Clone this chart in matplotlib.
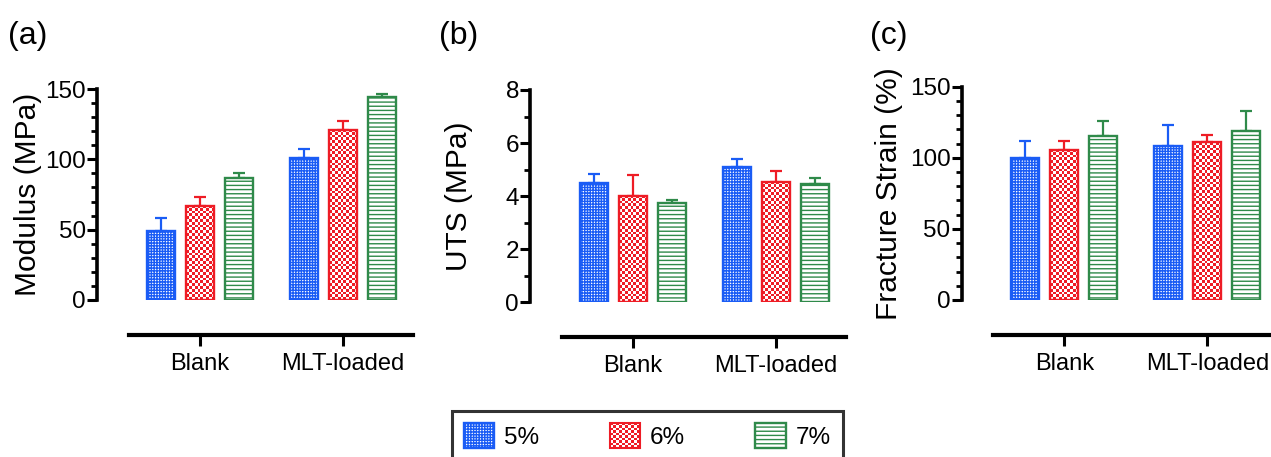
import matplotlib.pyplot as plt
import matplotlib as mpl
import numpy as np
from matplotlib.colors import ListedColormap
from matplotlib.patches import Rectangle
from matplotlib.legend_handler import HandlerBase

plt.rcParams['font.family'] = ['Liberation Sans', 'DejaVu Sans']

groups = ['Blank', 'MLT-loaded']
series = ['5%', '6%', '7%']
colors = ['#1a5cf5', '#ee1c25', '#2f8a4a']
hatches = ['++++++', None, '----']
hatch_lw = [1.0, 1.0, 1.3]
checker_px = 2.8  # cell size of the red checkerboard, pixels

modulus_mean = [[49, 101], [67, 121], [87, 144]]
modulus_err = [[9.5, 6], [6, 6], [3, 2.5]]

uts_mean = [[4.49, 5.08], [4.02, 4.53], [3.76, 4.46]]
uts_err = [[0.33, 0.33], [0.78, 0.42], [0.10, 0.23]]

strain_mean = [[100, 108.5], [105.5, 111], [115, 119]]
strain_err = [[12, 14.5], [6.5, 5], [11, 14]]

W, H = 1271, 457
fig = plt.figure(figsize=(W / 100, H / 100), dpi=100)

group_pos = np.array([0, 3.667])
offsets = [-1, 0, 1]
xmin, xmax = -2.63, 5.55
unit = 39.0


def hatch_width(artist, lw):
    orig = artist.draw

    def draw(renderer):
        with mpl.rc_context({'hatch.linewidth': lw}):
            orig(renderer)
    artist.draw = draw


def checker(ax, bar, color, ypx):
    x0, y0 = bar.get_x(), bar.get_y()
    w, h = bar.get_width(), bar.get_height()
    nx = max(1, int(round(w * unit / checker_px)))
    ny = max(1, int(round(h * ypx / checker_px)))
    ii, jj = np.indices((ny, nx))
    z = (ii + jj) % 2
    ax.imshow(z, extent=(x0, x0 + w, y0, y0 + h), origin='lower', aspect='auto',
              cmap=ListedColormap(['white', color]), interpolation='nearest', zorder=1.5)


class CheckerHandler(HandlerBase):
    def __init__(self, color, n=10):
        super().__init__()
        self.color = color
        self.n = n

    def create_artists(self, legend, orig_handle, xdescent, ydescent, width, height,
                       fontsize, trans):
        arts = [Rectangle((-xdescent, -ydescent), width, height, facecolor='white',
                          edgecolor='none', transform=trans)]
        cw, ch = width / self.n, height / self.n
        for i in range(self.n):
            for j in range(self.n):
                if (i + j) % 2:
                    arts.append(Rectangle((-xdescent + j * cw, -ydescent + i * ch), cw, ch,
                                          facecolor=self.color, edgecolor='none',
                                          transform=trans))
        arts.append(Rectangle((-xdescent, -ydescent), width, height, facecolor='none',
                              edgecolor=self.color, lw=1.5, transform=trans))
        return arts


def panel(left_px, bottom_px, top_px, means, errs, ylim, major, minor, ylabel, tag, label_x):
    ax = fig.add_axes([left_px / W, (H - bottom_px) / H,
                       (xmax - xmin) * unit / W, (bottom_px - top_px) / H])
    ypx = (bottom_px - top_px) / (ylim[1] - ylim[0])
    bars = []
    for i in range(3):
        b = ax.bar(group_pos + offsets[i], means[i], width=0.72,
                   facecolor='none' if hatches[i] is None else 'white',
                   edgecolor=colors[i], hatch=hatches[i], linewidth=1.7, zorder=2)
        for p in b:
            if hatches[i] is None:
                checker(ax, p, colors[i], ypx)
            else:
                hatch_width(p, hatch_lw[i])
        ax.errorbar(group_pos + offsets[i], means[i],
                    yerr=[np.zeros(2), errs[i]], fmt='none', ecolor=colors[i],
                    elinewidth=1.6, capsize=4.5, capthick=1.6, zorder=1)
        bars.append(b)
    ax.set_xlim(xmin, xmax)
    ax.set_ylim(*ylim)
    ax.set_yticks(np.arange(ylim[0], ylim[1] + 0.001, major))
    ax.set_yticks(np.arange(ylim[0], ylim[1] + 0.001, minor), minor=True)
    ax.set_xticks(group_pos)
    ax.set_xticklabels(groups)
    for s in ['top', 'right']:
        ax.spines[s].set_visible(False)
    ax.spines['left'].set_linewidth(2.6)
    ax.spines['bottom'].set_linewidth(3.0)
    ax.spines['bottom'].set_position(('outward', 25))
    ax.spines['bottom'].set_bounds(-1.82, 5.48)
    ax.tick_params(axis='y', which='major', length=7, width=2.2, labelsize=17.5, pad=1)
    ax.tick_params(axis='y', which='minor', length=4.5, width=2.0)
    ax.tick_params(axis='x', length=8, width=2.2, labelsize=17, pad=5)
    ax.set_ylabel(ylabel, fontsize=21.5)
    ax.yaxis.set_label_coords(label_x, 0.5)
    ax.patch.set_alpha(0)
    fig.text(tag[1] / W, 1 - 36 / H, tag[0], fontsize=23, ha='left', va='center')
    return bars


bars = panel(97, 300, 89, modulus_mean, modulus_err, (0, 150), 50, 10,
             'Modulus (MPa)', ('(a)', 8), -0.1735)
panel(530, 302.3, 90, uts_mean, uts_err, (0, 8), 2, 1,
      'UTS (MPa)', ('(b)', 439), -0.18)
panel(961.7, 300, 86.7, strain_mean, strain_err, (0, 150), 50, 10,
      'Fracture Strain (%)', ('(c)', 870), -0.185)

handles = [b[0] for b in bars]
leg = fig.legend(handles, series, loc='upper left',
                 bbox_to_anchor=(451.7 / W, 1 - 410.7 / H), bbox_transform=fig.transFigure,
                 ncol=3, fontsize=17.5, frameon=True, fancybox=False, borderaxespad=0,
                 borderpad=0.5, handlelength=1.25, handleheight=1.2, handletextpad=0.4,
                 columnspacing=2.9, handler_map={handles[1]: CheckerHandler(colors[1])})
leg.get_frame().set_edgecolor('black')
leg.get_frame().set_linewidth(2.2)
for h, lw in zip(leg.legend_handles, hatch_lw):
    if h is not None:
        hatch_width(h, lw)

fig.savefig('out.png', dpi=100)
